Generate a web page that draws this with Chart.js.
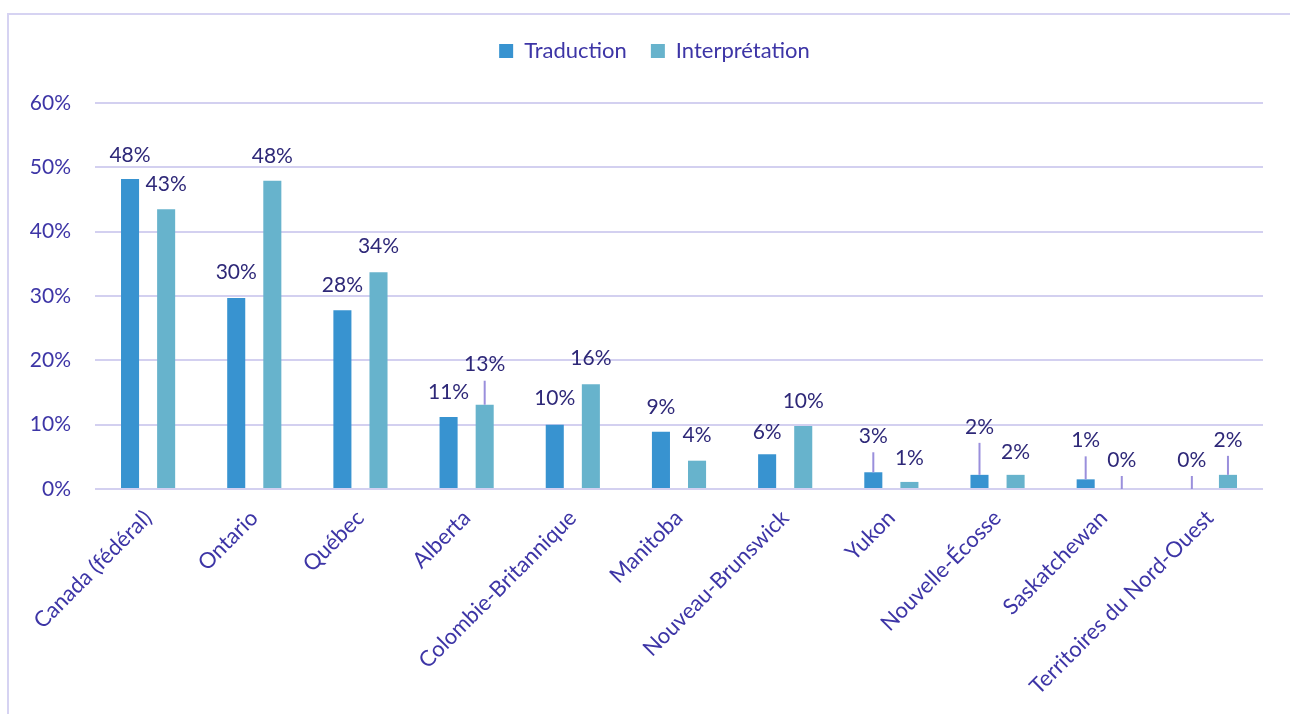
<!DOCTYPE html>
<html>
<head>
<meta charset="utf-8">
<script src="https://cdn.jsdelivr.net/npm/chart.js@4.4.1/dist/chart.umd.min.js"></script>
<style>
  html, body { margin: 0; padding: 0; background: #ffffff; }
  #wrap { position: relative; width: 1290px; height: 714px; overflow: hidden; }
  #frame { position: absolute; left: 7px; top: 13px; width: 1400px; height: 800px;
           border-left: 2px solid #d6d3f2; border-top: 2px solid #d6d3f2; }
  canvas { position: absolute; left: 0; top: 0; }
</style>
</head>
<body>
<div id="wrap">
  <div id="frame"></div>
  <canvas id="c" width="1290" height="714"></canvas>
</div>
<script>
const categories = ["Canada (fédéral)", "Ontario", "Québec", "Alberta", "Colombie-Britannique",
  "Manitoba", "Nouveau-Brunswick", "Yukon", "Nouvelle-Écosse", "Saskatchewan", "Territoires du Nord-Ouest"];
const traduction = [48.2, 29.7, 27.8, 11.2, 10.0, 8.9, 5.4, 2.6, 2.2, 1.5, 0];
const interpretation = [43.5, 47.9, 33.7, 13.1, 16.3, 4.4, 9.8, 1.1, 2.2, 0, 2.2];
const traductionLabels = ["48%", "30%", "28%", "11%", "10%", "9%", "6%", "3%", "2%", "1%", "0%"];
const interpretationLabels = ["43%", "48%", "34%", "13%", "16%", "4%", "10%", "1%", "2%", "0%", "2%"];
const yTicks = [0, 10, 20, 30, 40, 50, 60];

// label placement (style): distance in px from bar top to label centre
const tradLabelOffset = [24, 26, 25, 25, 26, 25, 22, 36, 48, 39, 29];
const interpLabelOffset = [25, 25, 26, 40, 26, 25, 25, 24, 23, 29, 35];

const FONT = "Lato";
const AXIS_TEXT = "#3d35a6";
const LABEL_TEXT = "#2e2878";
const GRID = "#d3d0f0";

const labelPlugin = {
  id: "barLabels",
  afterDatasetsDraw(chart) {
    const ctx = chart.ctx;
    const labelSets = [traductionLabels, interpretationLabels];
    const offsets = [tradLabelOffset, interpLabelOffset];
    chart.data.datasets.forEach((ds, di) => {
      const meta = chart.getDatasetMeta(di);
      meta.data.forEach((el, i) => {
        const off = offsets[di][i];
        const cy = el.y - off;
        if (off > 28) {
          ctx.save();
          ctx.strokeStyle = "#9a8fdc";
          ctx.lineWidth = 2;
          ctx.beginPath();
          ctx.moveTo(el.x, cy + 16);
          ctx.lineTo(el.x, el.y);
          ctx.stroke();
          ctx.restore();
        }
        ctx.save();
        ctx.fillStyle = LABEL_TEXT;
        ctx.font = "21px " + FONT;
        ctx.textAlign = "center";
        ctx.textBaseline = "middle";
        ctx.fillText(labelSets[di][i], el.x, cy);
        ctx.restore();
      });
    });
  }
};

const legendTweak = {
  id: "legendTweak",
  beforeInit(chart) {
    const orig = chart.legend.fit;
    chart.legend.fit = function () {
      orig.call(this);
      this.height = 87;
    };
  },
  afterLayout(chart) {
    chart.legend.left += 18;
    chart.legend.right += 18;
  }
};

new Chart(document.getElementById("c"), {
  type: "bar",
  data: {
    labels: categories,
    datasets: [
      { label: "Traduction", data: traduction, backgroundColor: "#3893d0",
        borderColor: "#3893d0", borderWidth: 0, categoryPercentage: 0.68, barPercentage: 0.5 },
      { label: "Interprétation", data: interpretation, backgroundColor: "#67b3cc",
        borderColor: "#67b3cc", borderWidth: 0, categoryPercentage: 0.68, barPercentage: 0.5 }
    ]
  },
  options: {
    responsive: false,
    animation: false,
    devicePixelRatio: 1,
    layout: { padding: { top: 16, right: 27, left: 10, bottom: 0 } },
    plugins: {
      legend: {
        position: "top",
        labels: { font: { family: FONT, size: 22 }, color: AXIS_TEXT, boxWidth: 14, boxHeight: 14, padding: 24 }
      },
      tooltip: { enabled: false }
    },
    scales: {
      x: {
        grid: { display: false, drawTicks: false },
        border: { display: false },
        ticks: { font: { family: FONT, size: 22 }, color: AXIS_TEXT, maxRotation: 45, minRotation: 45, padding: 16, autoSkip: false },
        afterFit(s) { s.height = 225; }
      },
      y: {
        min: 0, max: 60,
        afterBuildTicks(s) { s.ticks = yTicks.map(v => ({ value: v })); },
        grid: { color: GRID, lineWidth: 2, drawTicks: false },
        border: { display: false },
        ticks: { font: { family: FONT, size: 21 }, color: AXIS_TEXT, padding: 24, callback: v => v + "%" },
        afterFit(s) { s.width = 85; }
      }
    }
  },
  plugins: [labelPlugin, legendTweak]
});
</script>
</body>
</html>
